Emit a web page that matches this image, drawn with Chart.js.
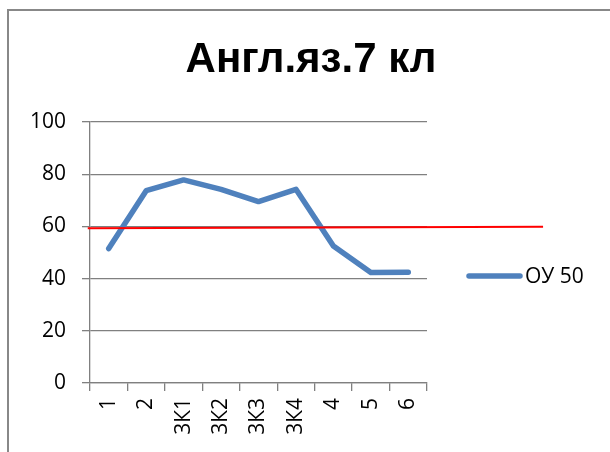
<!DOCTYPE html>
<html>
<head>
<meta charset="utf-8">
<script src="https://cdn.jsdelivr.net/npm/chart.js@4"></script>
<style>
  html, body { margin: 0; padding: 0; background: #fff; overflow: hidden; }
  #frame {
    position: absolute; left: 7px; top: 9px; width: 800px; height: 600px;
    border-left: 2px solid #888; border-top: 2px solid #888;
  }
  #wrap { position: absolute; left: 0; top: 0; width: 610px; height: 452px; }
</style>
</head>
<body>
<div id="frame"></div>
<div id="wrap"><canvas id="chart" width="610" height="452"></canvas></div>
<script>
// chart data
const labels = ["1", "2", "3К1", "3К2", "3К3", "3К4", "4", "5", "6"];
const ouValues = [51.5, 73.7, 77.8, 74.2, 69.5, 74.2, 52.5, 42.3, 42.4];
const seriesName = "ОУ 50";
const yTicks = [0, 100, 20]; // min, max, step

// red threshold line: index range on category axis and values at its ends
const thresholdIdx = [-0.56, 11.6];
const thresholdVal = [59.3, 59.9];

const FONT = "'Liberation Sans', Arial, sans-serif";
const TICK_FONT = "'Open Sans', 'Liberation Sans', sans-serif";

// threshold line drawn through the scales (runs past the plot like in the original)
const thresholdPlugin = {
    id: "threshold",
    afterDatasetsDraw(chart) {
        const x = chart.scales.x, y = chart.scales.y, ctx = chart.ctx;
        ctx.save();
        ctx.strokeStyle = "#ff0000";
        ctx.lineWidth = 2;
        ctx.beginPath();
        ctx.moveTo(x.getPixelForValue(thresholdIdx[0]), y.getPixelForValue(thresholdVal[0]));
        ctx.lineTo(x.getPixelForValue(thresholdIdx[1]), y.getPixelForValue(thresholdVal[1]));
        ctx.stroke();
        ctx.restore();
    }
};

// legend on the right
const legendPlugin = {
    id: "sideLegend",
    afterDraw(chart) {
        const ctx = chart.ctx;
        const ds = chart.data.datasets[0];
        const ly = 276;
        ctx.save();
        ctx.strokeStyle = ds.borderColor;
        ctx.lineWidth = 5.5;
        ctx.lineCap = "round";
        ctx.beginPath();
        ctx.moveTo(469, ly);
        ctx.lineTo(520, ly);
        ctx.stroke();
        ctx.fillStyle = "#000";
        ctx.font = "21px " + TICK_FONT;
        ctx.textBaseline = "middle";
        ctx.fillText(ds.label, 525, ly + 1);
        ctx.restore();
    }
};

new Chart(document.getElementById("chart"), {
    type: "line",
    data: {
        labels: labels,
        datasets: [{
            label: seriesName,
            data: ouValues,
            borderColor: "#4f81bd",
            backgroundColor: "#4f81bd",
            borderWidth: 5.5,
            borderCapStyle: "round",
            borderJoinStyle: "round",
            pointRadius: 0,
            tension: 0
        }]
    },
    options: {
        responsive: false,
        animation: false,
        layout: { padding: { left: 12, right: 0, top: 0, bottom: 0 } },
        plugins: {
            legend: { display: false },
            tooltip: { enabled: false },
            title: {
                display: true,
                text: "Англ.яз.7 кл",
                color: "#000",
                font: { family: FONT, size: 42, weight: "bold", lineHeight: 1.2 },
                padding: { top: 35, bottom: 36.6 }
            }
        },
        scales: {
            x: {
                offset: true,
                border: { color: "#808080", width: 1.3 },
                grid: { offset: true, drawOnChartArea: false, drawTicks: true, tickLength: 8, color: "#808080", lineWidth: 1.3 },
                ticks: {
                    color: "#000",
                    font: { family: TICK_FONT, size: 21 },
                    minRotation: 90, maxRotation: 90,
                    autoSkip: false,
                    padding: 7
                },
                afterFit(scale) { scale.height = 69; }
            },
            y: {
                min: yTicks[0], max: yTicks[1],
                border: { color: "#808080", width: 1.3 },
                grid: { color: "#808080", tickLength: 8, lineWidth: 1.3 },
                ticks: {
                    stepSize: yTicks[2],
                    color: "#000",
                    font: { family: TICK_FONT, size: 21 },
                    padding: 16
                },
                afterFit(scale) { scale.width = 78; }
            },
            // empty right-hand axis that reserves the legend space
            side: {
                type: "linear",
                position: "right",
                grid: { display: false, drawTicks: false },
                border: { display: false },
                ticks: { display: false },
                afterFit(scale) { scale.width = 183; }
            }
        }
    },
    plugins: [thresholdPlugin, legendPlugin]
});
</script>
</body>
</html>
